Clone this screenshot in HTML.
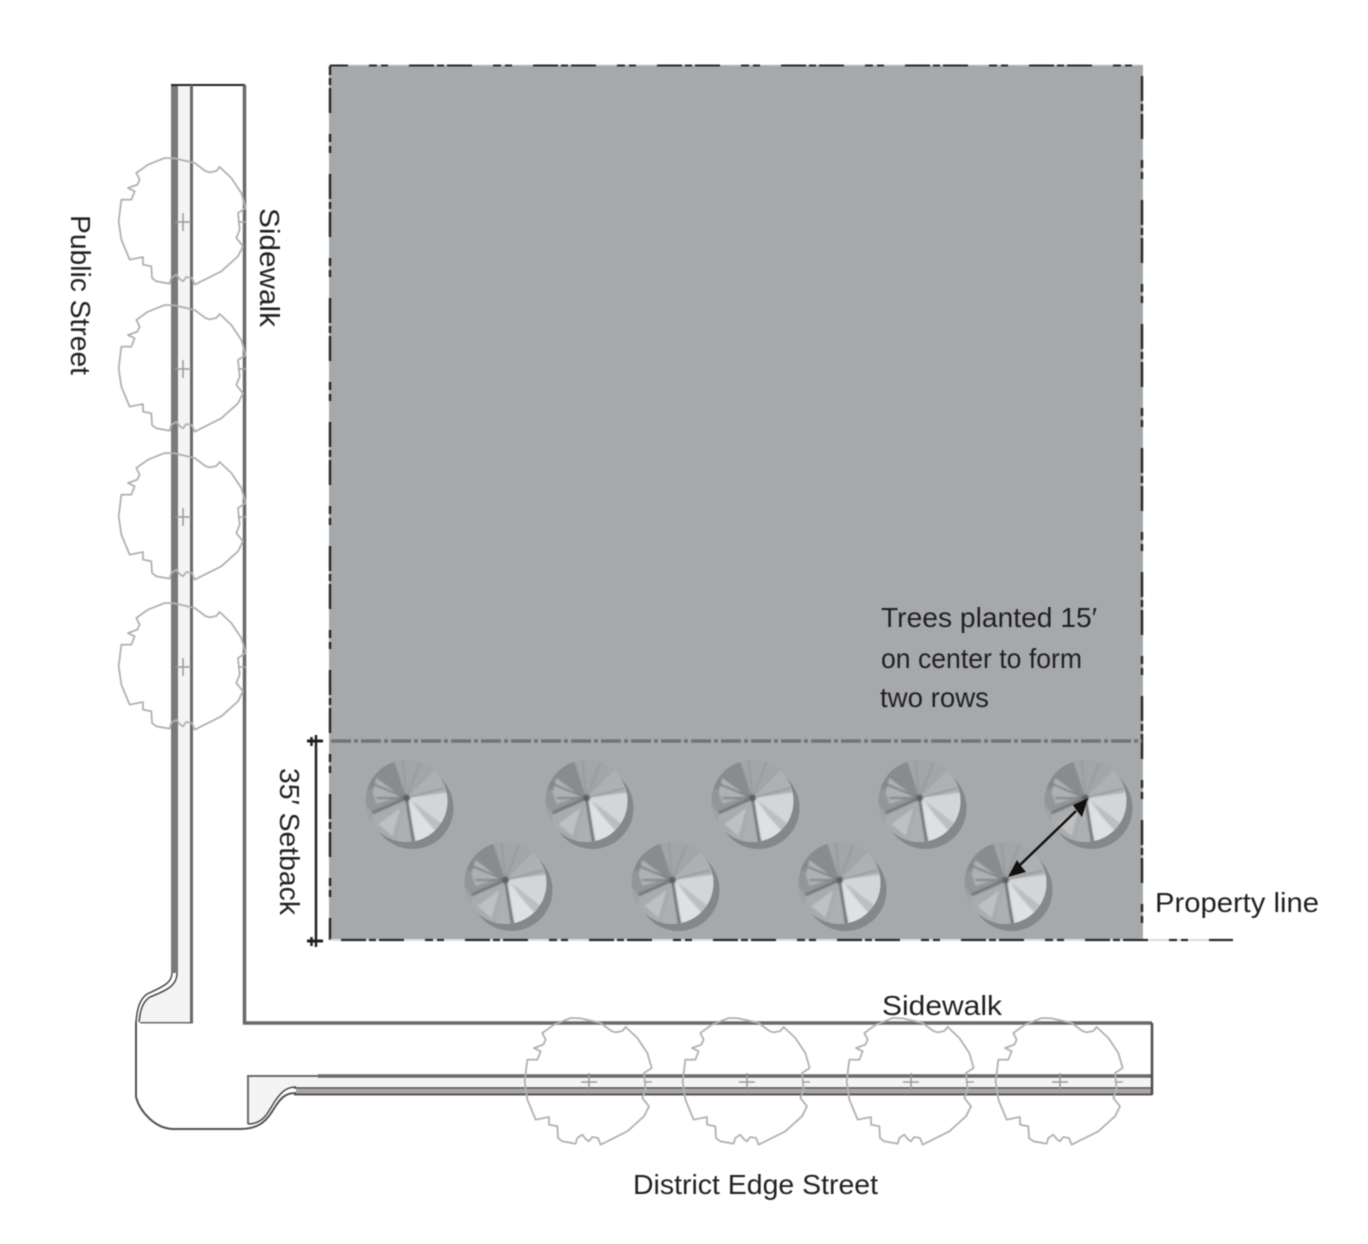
<!DOCTYPE html>
<html>
<head>
<meta charset="utf-8">
<style>
html,body{margin:0;padding:0;background:#fff}
svg{display:block;filter:blur(.45px)}
text{font-family:"Liberation Sans",sans-serif;font-size:28px;fill:#231f20}
</style>
</head>
<body>
<svg width="1368" height="1244" viewBox="0 0 1368 1244" xmlns="http://www.w3.org/2000/svg">
<defs>
  <filter id="soft" x="-10%" y="-10%" width="120%" height="120%"><feGaussianBlur stdDeviation=".7"/></filter>
  <g id="canopy">
    <path transform="scale(.3333) translate(-205,-217)" fill="none" stroke="#b2b2b2" stroke-width="5.5" stroke-linejoin="round" d="M150,25L180,26L210,33L240,40L260,55L272,64L285,68L305,64L315,52L350,85L380,130L393,175L370,190L375,240L365,265L385,290L370,320L320,365L240,405L232,385L215,382L205,395L195,388L185,375L170,385L165,402L125,395L112,385L110,350L85,345L85,322L45,330L20,270L12,215L20,150L50,150L60,125L40,115L68,105L75,90L65,70L100,45Z"/>
    <path d="M-8,0H8M0,-9V9" stroke="#9a9a9a" stroke-width="1.5" fill="none"/>
    <path d="M55,0H63" stroke="#a5a5a5" stroke-width="1.5" fill="none"/>
  </g>
  <clipPath id="cc"><circle cx="0" cy="3" r="41"/></clipPath>
  <g id="tree">
    <circle cx="6" cy="10" r="41" fill="#85878a"/>
    <circle cx="0" cy="3" r="41" fill="#a0a2a4"/>
    <g clip-path="url(#cc)" filter="url(#soft)">
      <polygon points="0,0 -34,15 -50,-5 -38,-32 -15,-45" fill="#939598"/>
      <polygon points="0,0 -15,-45 -30,-35 -42,-10" fill="#898b8e"/>
      <polygon points="0,0 -15,-45 18,-46 30,-30" fill="#a3a5a7"/>
      <polygon points="0,0 30,-30 44,-15 44,-6" fill="#aeb0b2"/>
      <polygon points="0,0 44,-6 44,24 30,34" fill="#d4d5d7"/>
      <polygon points="6,3 38,28 28,36" fill="#bcbec0"/>
      <polygon points="0,0 30,34 10,48" fill="#dfe0e1"/>
      <polygon points="0,0 8,48 -12,48" fill="#adafb1"/>
      <polygon points="0,0 -12,48 -34,32 -34,15" fill="#a9abad"/>
      <polygon points="-6,10 -14,38 -28,26" fill="#bfc0c2"/>
      <polygon points="-6,-2 -30,-20 -34,-6 -30,6" fill="#aeb0b2"/>
      <path d="M0,0L-34,15M0,0L7,44" stroke="#76787b" stroke-width="3" fill="none"/>
      <path d="M0,0L-36,-15M0,0L-30,0" stroke="#808285" stroke-width="2" fill="none"/>
      <path d="M0,0L-4,-38M0,0L38,-10M0,0L14,-36" stroke="#97999b" stroke-width="1.6" fill="none"/>
      <circle cx="0" cy="0" r="3.5" fill="#5e6063"/>
    </g>
  </g>
</defs>

<!-- site block -->
<rect x="329" y="65" width="814" height="875" fill="#a6a9ab"/>
<path d="M329,65H1143" stroke="#d6d6d6" stroke-width="1" fill="none"/>
<g fill="none" stroke="#2b2b2d" stroke-dasharray="25 21 8 4 7 21 25 3 7 3">
  <path d="M330,65.5H1142" stroke-dashoffset="7" stroke-width="2"/>
  <path d="M330,66V940" stroke-dashoffset="102" stroke-width="2.5"/>
  <path d="M1142,66V940" stroke-dashoffset="76" stroke-width="2.5"/>
</g>
<path d="M330,940H1233" stroke="#dcdcdc" stroke-width="2" fill="none"/>
<path d="M330,940H1233" stroke="#2b2b2d" stroke-width="2.2" fill="none" stroke-dasharray="25 21 8 4 7 21 25 3 7 3" stroke-dashoffset="75"/>
<path d="M331,741H1142" stroke="#737476" stroke-width="3.5" fill="none" stroke-dasharray="20 3 4 3"/>

<!-- vertical road -->
<rect x="178" y="85" width="13" height="937" fill="#f4f4f4"/>
<rect x="171" y="85" width="7" height="888" fill="#7d7878"/>
<path d="M171,85H245" stroke="#231f20" stroke-width="2" fill="none"/>
<path d="M191.5,85V1022H140" stroke="#6d6868" stroke-width="3" fill="none"/>
<path d="M244.5,85V1023H1152" stroke="#6d6868" stroke-width="3.5" fill="none"/>
<path d="M178,973C178,985 170,990 150,998C142,1003 140,1012 139,1022H190V973Z" fill="#f4f4f4"/>
<path d="M177,973C177,985 168,990 150,997C142,1002 140,1012 139,1022" fill="none" stroke="#4a4646" stroke-width="1.5"/>
<path d="M172,973C172,982 165,986 147,994C139,1000 137,1010 136,1022" fill="none" stroke="#4a4646" stroke-width="1.5"/>

<!-- outer curb -->
<path d="M136,1022V1097C140,1112 155,1128 172,1129H240C262,1129 268,1118 275,1107C282,1096 287,1093 296,1093" fill="none" stroke="#555050" stroke-width="2"/>

<!-- horizontal road -->
<path d="M248,1076H1152V1088H296C287,1088 282,1091 275,1102C268,1114 262,1124 248,1124Z" fill="#f4f4f4"/>
<path d="M248,1124V1076H1152" fill="none" stroke="#6d6868" stroke-width="2"/>
<path d="M318,1076H1152" stroke="#6d6868" stroke-width="3.5" fill="none"/>
<path d="M294,1088H1152" stroke="#4a4646" stroke-width="1.5" fill="none"/>
<rect x="296" y="1089" width="856" height="4.5" fill="#a9a5a5"/>
<path d="M294,1094.5H1152" stroke="#5a5555" stroke-width="2" fill="none"/>
<path d="M1152,1023V1095" stroke="#4e4a4a" stroke-width="2.5" fill="none"/>
<path d="M248,1124C264,1124 268,1112 275,1101C282,1091 287,1087 296,1087" fill="none" stroke="#4a4646" stroke-width="1.5"/>

<!-- street tree outlines -->
<use href="#canopy" x="183" y="222"/>
<use href="#canopy" x="183" y="369"/>
<use href="#canopy" x="183" y="517"/>
<use href="#canopy" x="183" y="667"/>
<use href="#canopy" x="589" y="1082"/>
<use href="#canopy" x="747" y="1082"/>
<use href="#canopy" x="911" y="1082"/>
<use href="#canopy" x="1060" y="1082"/>

<!-- planted trees -->
<use href="#tree" x="406.5" y="798"/>
<use href="#tree" x="586.5" y="798"/>
<use href="#tree" x="752.5" y="798"/>
<use href="#tree" x="919.5" y="798"/>
<use href="#tree" x="1085.5" y="798"/>
<use href="#tree" x="505.5" y="880"/>
<use href="#tree" x="672.5" y="880"/>
<use href="#tree" x="839.5" y="880"/>
<use href="#tree" x="1005.5" y="880"/>

<!-- spacing arrow -->
<path d="M1076,811L1020,865" stroke="#111" stroke-width="2.5" fill="none"/>
<polygon points="1088,798 1082,817 1077,811 1073,805" fill="#111"/>
<polygon points="1008,877 1017,860 1021,866 1026,872" fill="#111"/>

<!-- setback dimension -->
<path d="M316,735V947" stroke="#231f20" stroke-width="2.5" fill="none"/>
<path d="M307,741H323M307,941H323" stroke="#231f20" stroke-width="3" fill="none"/>
<path d="M311.5,737V746M311.5,937V946" stroke="#231f20" stroke-width="2.5" fill="none"/>

<!-- labels -->
<text x="881" y="627" textLength="216" lengthAdjust="spacingAndGlyphs">Trees planted 15′</text>
<text x="881" y="668" textLength="201" lengthAdjust="spacingAndGlyphs">on center to form</text>
<text x="880" y="707" textLength="109" lengthAdjust="spacingAndGlyphs">two rows</text>
<text x="1155" y="912" textLength="164" lengthAdjust="spacingAndGlyphs">Property line</text>
<text x="882" y="1015" textLength="120" lengthAdjust="spacingAndGlyphs">Sidewalk</text>
<text x="633" y="1194" textLength="245" lengthAdjust="spacingAndGlyphs">District Edge Street</text>
<text transform="translate(71,215) rotate(90)" textLength="160" lengthAdjust="spacingAndGlyphs">Public Street</text>
<text transform="translate(260,208) rotate(90)" textLength="119" lengthAdjust="spacingAndGlyphs">Sidewalk</text>
<text transform="translate(280,768) rotate(90)" textLength="147" lengthAdjust="spacingAndGlyphs">35′ Setback</text>
</svg>
</body>
</html>
